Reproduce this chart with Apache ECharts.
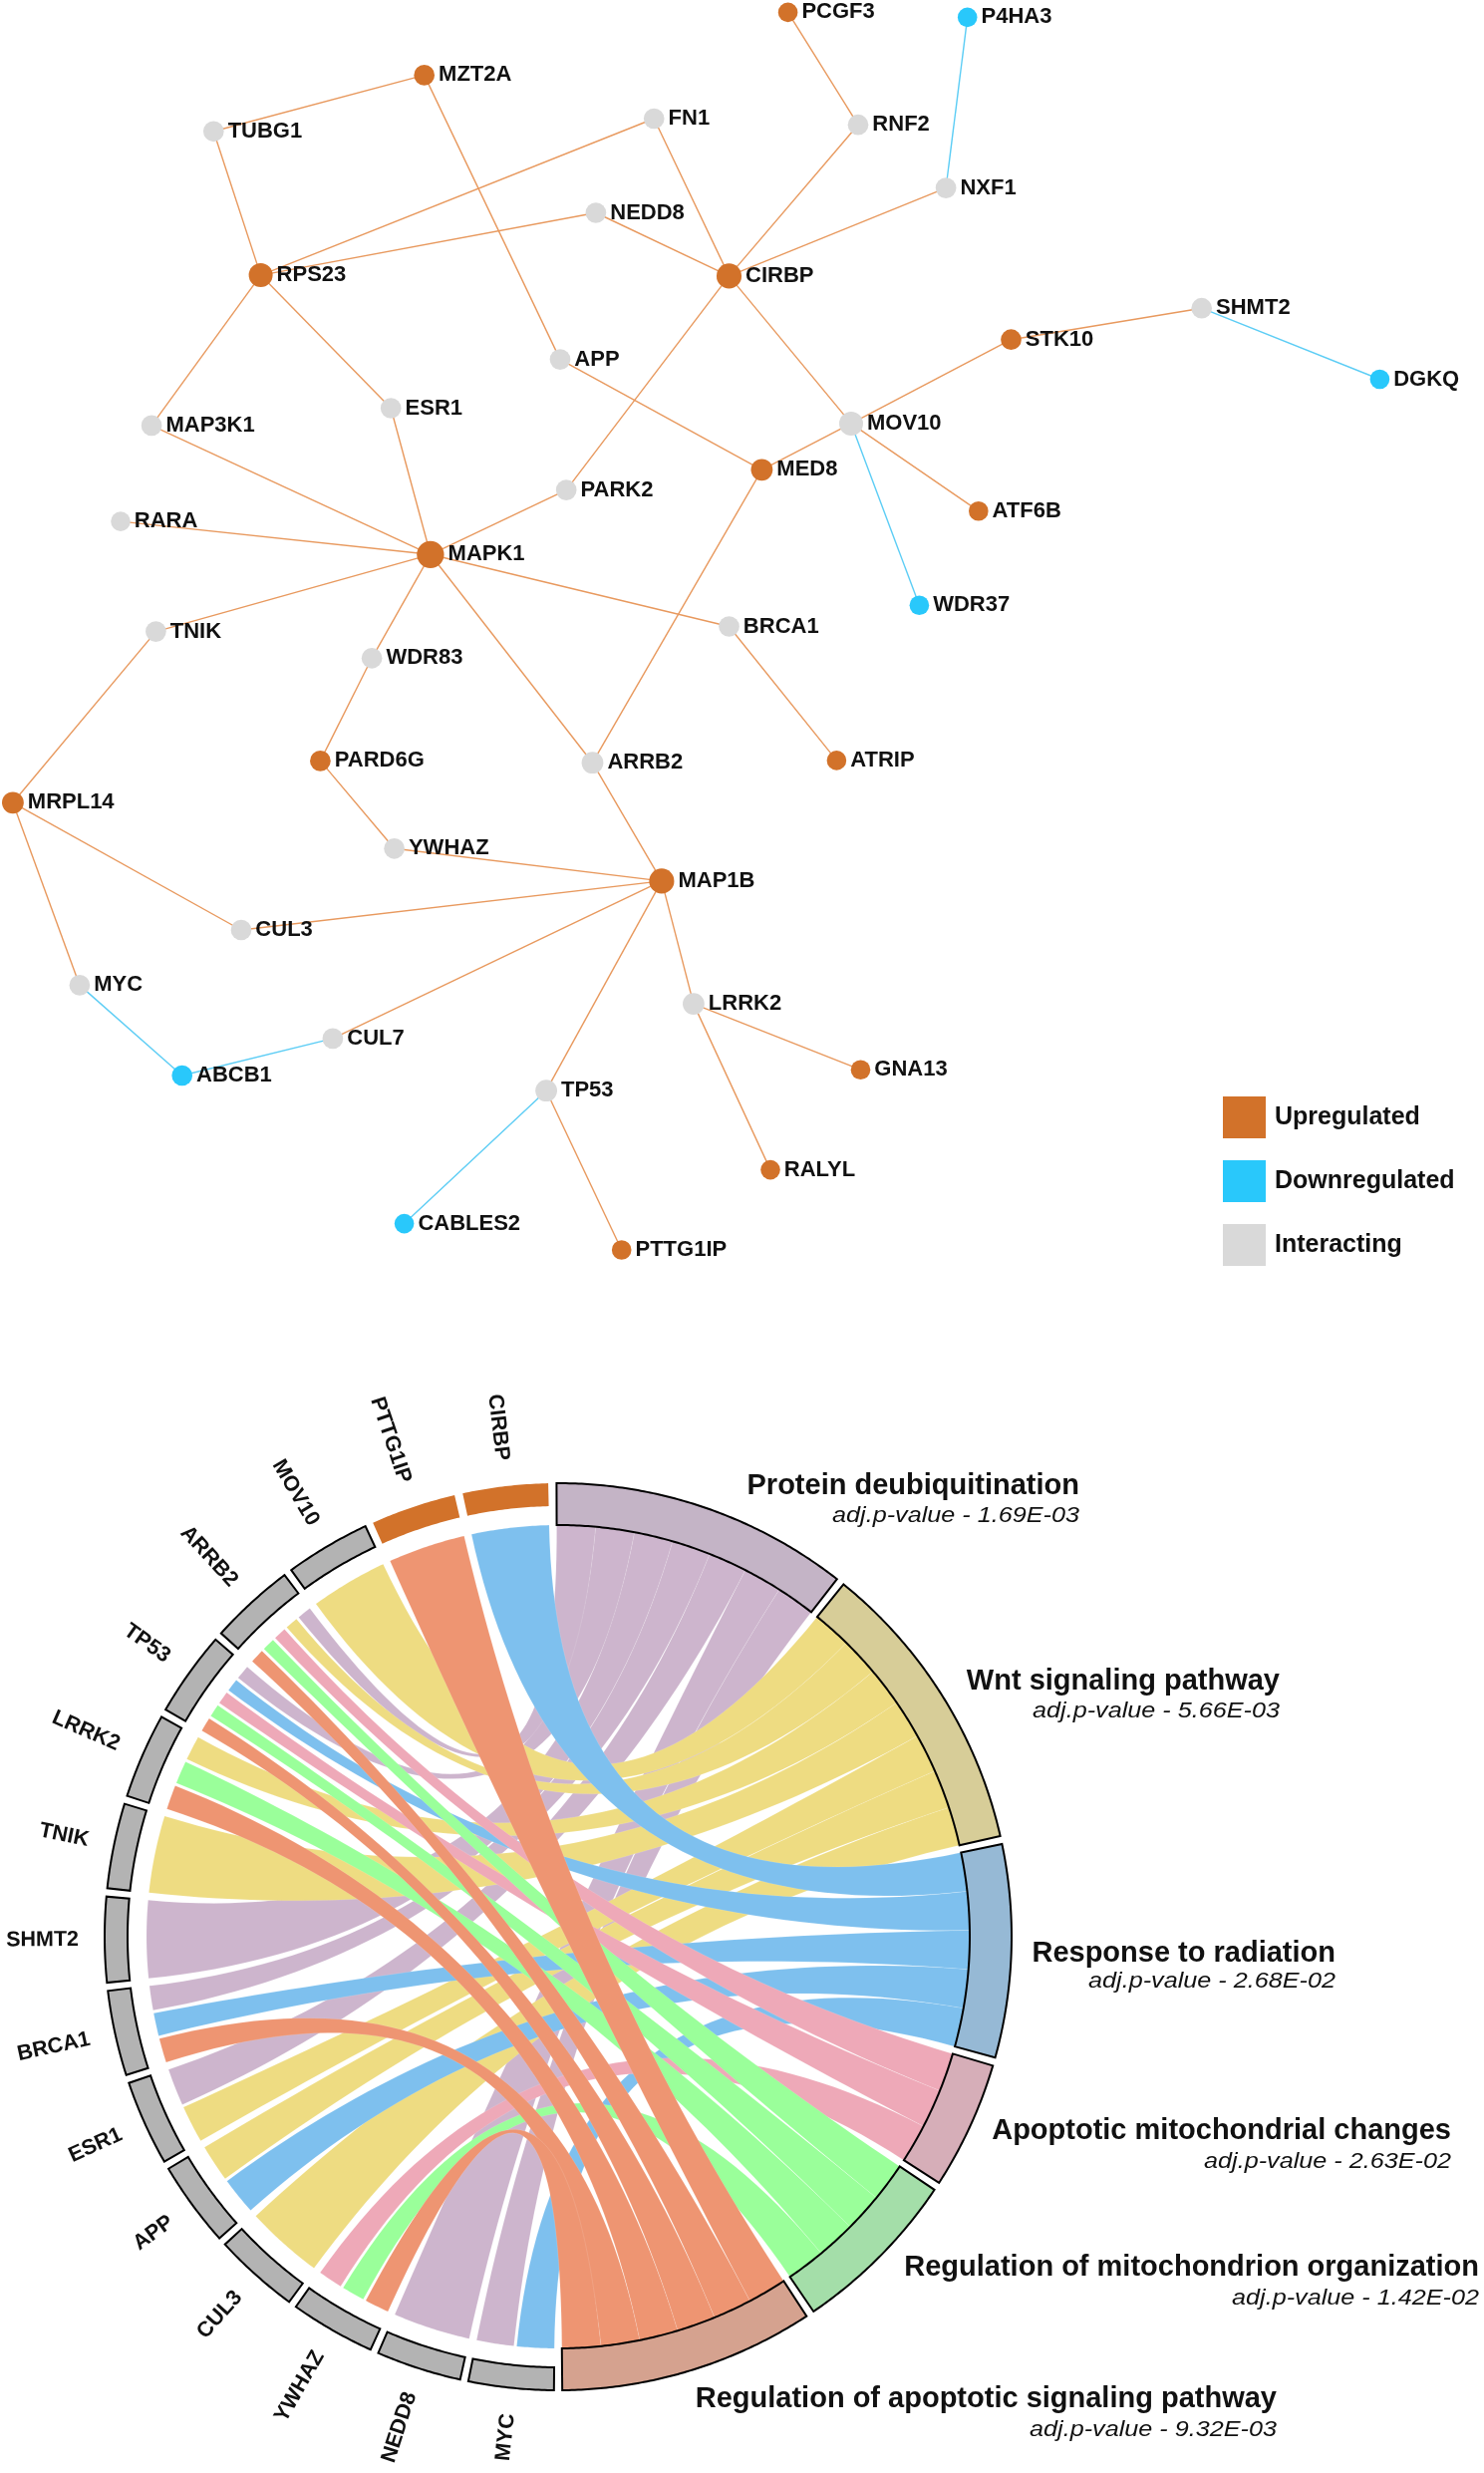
<!DOCTYPE html>
<html>
<head>
<meta charset="utf-8">
<script src="https://cdn.jsdelivr.net/npm/echarts@6/dist/echarts.min.js"></script>
<style>
html,body{margin:0;padding:0;background:#ffffff;}
#chart{width:1489px;height:2481px;}
</style>
</head>
<body>
<div id="chart"></div>
<script>
// ================= NETWORK DATA =================
const nodeNames = ['MZT2A','TUBG1','FN1','NEDD8','RPS23','CIRBP','APP','ESR1','MAP3K1','PARK2','RARA','MAPK1','TNIK','BRCA1','PCGF3','P4HA3','RNF2','NXF1','SHMT2','STK10','DGKQ','MOV10','MED8','ATF6B','WDR37','WDR83','PARD6G','ARRB2','MRPL14','YWHAZ','MAP1B','CUL3','MYC','LRRK2','CUL7','ABCB1','TP53','CABLES2','PTTG1IP','ATRIP','GNA13','RALYL'];
const nodeX = [425.7,214.3,656.2,597.9,261.6,731.5,562.0,392.2,152.1,568.2,121.0,431.9,156.4,731.5,790.6,970.7,861.0,949.1,1205.7,1014.5,1384.4,854.0,764.4,981.8,922.4,373.1,321.4,594.5,12.9,395.6,663.9,242.0,79.9,695.9,333.9,182.7,548.1,405.6,623.7,839.4,863.5,773.0];
const nodeY = [75.4,131.8,119.0,213.5,276.1,276.9,360.6,409.5,426.9,491.6,523.1,556.3,633.6,628.5,12.4,17.4,125.2,188.6,309.2,340.7,380.5,424.9,471.3,512.7,607.2,660.3,763.4,765.2,805.3,851.3,883.9,933.0,988.4,1007.1,1041.9,1079.0,1094.2,1227.6,1254.0,762.9,1073.2,1173.6];
// 0 = Upregulated, 1 = Downregulated, 2 = Interacting
const nodeType = [0,2,2,2,0,0,2,2,2,2,2,0,2,2,0,1,2,2,2,0,1,2,0,0,1,2,0,2,0,2,0,2,2,2,2,1,2,1,0,0,0,0];
const categoryNames = ['Upregulated','Downregulated','Interacting'];
const edgeSource = ['TUBG1','TUBG1','MZT2A','FN1','FN1','NEDD8','NEDD8','RPS23','RPS23','APP','CIRBP','CIRBP','RNF2','CIRBP','CIRBP','MOV10','STK10','MOV10','MOV10','MED8','MAP3K1','ESR1','RARA','PARK2','MAPK1','MAPK1','MAPK1','WDR83','MAPK1','ARRB2','BRCA1','TNIK','MRPL14','MRPL14','PARD6G','YWHAZ','CUL3','CUL7','MAP1B','MAP1B','LRRK2','LRRK2','TP53','NXF1','SHMT2','MOV10','MYC','ABCB1','TP53'];
const edgeTarget = ['MZT2A','RPS23','APP','RPS23','CIRBP','RPS23','CIRBP','MAP3K1','ESR1','MED8','PARK2','RNF2','PCGF3','NXF1','MOV10','STK10','SHMT2','MED8','ATF6B','ARRB2','MAPK1','MAPK1','MAPK1','MAPK1','TNIK','BRCA1','WDR83','PARD6G','ARRB2','MAP1B','ATRIP','MRPL14','CUL3','MYC','YWHAZ','MAP1B','MAP1B','MAP1B','TP53','LRRK2','GNA13','RALYL','PTTG1IP','P4HA3','DGKQ','WDR37','ABCB1','CUL7','CABLES2'];

// ================= CHORD DATA =================
const genes = ['CIRBP','PTTG1IP','MOV10','ARRB2','TP53','LRRK2','TNIK','SHMT2','BRCA1','ESR1','APP','CUL3','YWHAZ','NEDD8','MYC'];
const terms = ['Protein deubiquitination','Wnt signaling pathway','Response to radiation','Apoptotic mitochondrial changes','Regulation of mitochondrion organization','Regulation of apoptotic signaling pathway'];
const termPValues = ['1.69E-03','5.66E-03','2.68E-02','2.63E-02','1.42E-02','9.32E-03'];
// term indices each gene belongs to
const geneTerms = [[2],[5],[1],[0,1,3,4,5],[0,2,3,4,5],[1,4,5],[1],[0],[0,2,5],[0,1],[1,2],[1],[3,4,5],[0],[0,2]];

// ================= STYLE / LAYOUT =================
const FONT = '"Liberation Sans", Arial, Helvetica, sans-serif';
const nodeColors = ['#D2722A','#29C8FB','#D9D9D9'];
const edgeColors = {up:'#E8995E', down:'#5CCDF5'};
const ribbonColors = ['#CDB5CD','#EEDC82','#7EC0EE','#EEA9B8','#9AFF9A','#EE9572'];
const termFill = ['#C4B4C6','#D7CD98','#96B9D5','#D6AEB8','#A4DEA9','#D5A28F'];
const geneFill = ['#D2722A','#D2722A','#B3B3B3'];
// term label anchors: [right x, title middle y, subtitle middle y]
const termLabelPos = [[1083,1491,1521],[1284,1687,1717],[1340,1960,1988],[1456,2138,2169],[1484,2275,2306],[1281,2407,2438]];
const CHORD_CENTER = [560,1943], CHORD_R = 456;
const R_OUT = 455, R_GIN = 432, R_TIN = 413, R_RIB = 413, R_LAB = 481;
const GAP = 1.05, GENE_W = 2, START = 90.2, GENE_PAD = 0.2;

// ---------- network derived ----------
const idx = {}; nodeNames.forEach((n,i)=>idx[n]=i);
const degree = nodeNames.map(()=>0);
edgeSource.forEach((s,k)=>{degree[idx[s]]++; degree[idx[edgeTarget[k]]]++;});
const minX = Math.min(...nodeX), maxX = Math.max(...nodeX);
const minY = Math.min(...nodeY), maxY = Math.max(...nodeY);

const graphNodes = nodeNames.map((n,i)=>({
  name:n, x:nodeX[i], y:nodeY[i], category:nodeType[i],
  symbolSize: 18.5 + 1.1*degree[i]
}));
const graphLinks = edgeSource.map((s,k)=>{
  const t = edgeTarget[k];
  const isDown = nodeType[idx[s]]===1 || nodeType[idx[t]]===1;
  return {source:s, target:t, lineStyle:{color: isDown?edgeColors.down:edgeColors.up}};
});

// ---------- chord layout derived ----------
const termCount = terms.map((t,ti)=>geneTerms.filter(g=>g.indexOf(ti)>=0).length);
const totalUnits = termCount.reduce((a,b)=>a+b,0) + genes.length*GENE_W;
const unit = (360 - GAP*(terms.length+genes.length))/totalUnits;
const termSpan = [], geneSpan = [];
let ang = START;
for (let ti=0; ti<terms.length; ti++){
  termSpan[ti] = [ang - termCount[ti]*unit, ang];
  ang -= termCount[ti]*unit + GAP;
}
for (let gi=genes.length-1; gi>=0; gi--){
  geneSpan[gi] = [ang - GENE_W*unit, ang];
  ang -= GENE_W*unit + GAP;
}
// links
const links = [];
for (let ti=0; ti<terms.length; ti++){
  let k = 0;
  for (let gi=0; gi<genes.length; gi++){
    const pos = geneTerms[gi].indexOf(ti);
    if (pos<0) continue;
    const hi = termSpan[ti][1] - k*unit;
    const n = geneTerms[gi].length;
    const gw = (geneSpan[gi][1]-geneSpan[gi][0])/n;
    let g0 = geneSpan[gi][0] + pos*gw, g1 = g0 + gw;
    if (pos>0) g0 += GENE_PAD;
    if (pos<n-1) g1 -= GENE_PAD;
    links.push({ti:ti, gi:gi, ta0:hi-unit, ta1:hi, ga0:g0, ga1:g1});
    k++;
  }
}
const geneColorIdx = genes.map(g=>nodeType[idx[g]]);

function arcPts(api, r, a0, a1, out){
  const n = Math.max(2, Math.ceil(Math.abs(a1-a0)/0.4));
  for (let k=0;k<=n;k++) out.push(api.coord([r, a0+(a1-a0)*k/n]));
}
function bezPts(p0, c, p2, out){
  const n = 48;
  for (let k=1;k<n;k++){
    const t=k/n, u=1-t;
    out.push([u*u*p0[0]+2*u*t*c[0]+t*t*p2[0], u*u*p0[1]+2*u*t*c[1]+t*t*p2[1]]);
  }
}
function ringPts(api, r0, r1, a0, a1){
  const pts = [];
  arcPts(api, r1, a0, a1, pts);
  arcPts(api, r0, a1, a0, pts);
  return pts;
}

const chart = echarts.init(document.getElementById('chart'), null, {renderer:'canvas', width:1489, height:2481});

const option = {
  backgroundColor:'#ffffff',
  animation:false,
  legend:{
    data: categoryNames, orient:'vertical', left:1222, top:1095,
    itemWidth:43, itemHeight:42, itemGap:22, icon:'rect', selectedMode:false,
    textStyle:{fontSize:25, fontWeight:'bold', color:'#111', fontFamily:FONT, padding:[0,0,0,4]}
  },
  polar:{center:CHORD_CENTER, radius:CHORD_R},
  angleAxis:{type:'value', min:0, max:360, startAngle:0, clockwise:false, show:false},
  radiusAxis:{type:'value', min:0, max:CHORD_R, show:false},
  series:[
    {
      type:'graph', layout:'none', silent:true,
      left:minX, top:minY, width:maxX-minX, height:maxY-minY,
      roam:false,
      categories: categoryNames.map((n,i)=>({name:n, itemStyle:{color:nodeColors[i]}})),
      data: graphNodes,
      links: graphLinks,
      itemStyle:{borderWidth:0},
      lineStyle:{width:1.4, opacity:1, curveness:0},
      label:{show:true, position:'right', distance:4, color:'#111', fontSize:22, fontWeight:'bold', fontFamily:FONT},
      emphasis:{disabled:true}
    },
    {
      type:'custom', coordinateSystem:'polar', silent:true, z:2,
      data: links.map(l=>[R_RIB, (l.ta0+l.ta1)/2]),
      renderItem:function(params, api){
        const L = links[params.dataIndex];
        const c = api.coord([0,0]);
        const pts = [];
        arcPts(api, R_RIB, L.ta0, L.ta1, pts);
        bezPts(api.coord([R_RIB, L.ta1]), c, api.coord([R_RIB, L.ga0]), pts);
        arcPts(api, R_RIB, L.ga0, L.ga1, pts);
        bezPts(api.coord([R_RIB, L.ga1]), c, api.coord([R_RIB, L.ta0]), pts);
        return {type:'polygon', shape:{points:pts}, style:{fill:ribbonColors[L.ti], stroke:'rgba(255,255,255,0.3)', lineWidth:0.4}};
      }
    },
    {
      type:'custom', coordinateSystem:'polar', silent:true, z:3,
      data: termSpan.map(s=>[R_OUT, (s[0]+s[1])/2]),
      renderItem:function(params, api){
        const i = params.dataIndex, s = termSpan[i], lp = termLabelPos[i];
        return {type:'group', children:[
          {type:'polygon', shape:{points:ringPts(api, R_TIN, R_OUT, s[0], s[1])},
           style:{fill:termFill[i], stroke:'#000', lineWidth:2}},
          {type:'text', x:lp[0], y:lp[1],
           style:{text:terms[i], x:0, y:0, align:'right', verticalAlign:'middle', fontSize:29, fontWeight:'bold', fontFamily:FONT, fill:'#111'}},
          {type:'text', x:lp[0], y:lp[2], scaleX:1.12,
           style:{text:'adj.p-value - '+termPValues[i], x:0, y:0, align:'right', verticalAlign:'middle', fontSize:22.5, fontStyle:'italic', fontFamily:FONT, fill:'#111'}}
        ]};
      }
    },
    {
      type:'custom', coordinateSystem:'polar', silent:true, z:3,
      data: geneSpan.map(s=>[R_OUT, (s[0]+s[1])/2]),
      renderItem:function(params, api){
        const i = params.dataIndex, s = geneSpan[i];
        const mid = (s[0]+s[1])/2;
        const lp = api.coord([R_LAB, mid]);
        const ci = geneColorIdx[i];
        return {type:'group', children:[
          {type:'polygon', shape:{points:ringPts(api, R_GIN, R_OUT, s[0], s[1])},
           style:{fill:geneFill[ci], stroke: ci===0 ? null : '#000', lineWidth: ci===0 ? 0 : 2}},
          {type:'text', x:lp[0], y:lp[1], rotation:(mid+180)*Math.PI/180,
           style:{text:genes[i], x:0, y:0, align:'right', verticalAlign:'middle', fontSize:21.5, fontWeight:'bold', fontFamily:FONT, fill:'#111'}}
        ]};
      }
    }
  ]
};
chart.setOption(option);
</script>
</body>
</html>
